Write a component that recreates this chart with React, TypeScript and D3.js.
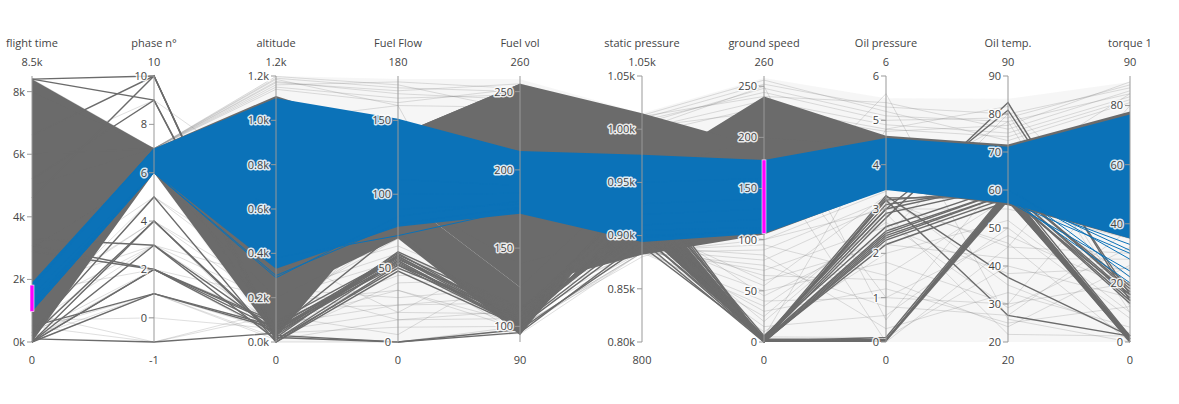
import * as d3 from "d3"

const WIDTH = 1179
const HEIGHT = 404
const AXIS_TOP = 76
const AXIS_BOTTOM = 342
const FONT = "'Open Sans', verdana, arial, sans-serif"

// dimensions
const dimLabels = ["flight time", "phase n°", "altitude", "Fuel Flow", "Fuel vol", "static pressure", "ground speed", "Oil pressure", "Oil temp.", "torque 1"]
const dimMin = [0, -1, 0, 0, 90, 800, 0, 0, 20, 0]
const dimMax = [8500, 10, 1200, 180, 260, 1050, 260, 6, 90, 90]
const dimTopText = ["8.5k", "10", "1.2k", "180", "260", "1.05k", "260", "6", "90", "90"]
const dimBottomText = ["0", "-1", "0", "0", "90", "800", "0", "0", "20", "0"]
const dimTicks = [
  [0, 2000, 4000, 6000, 8000],
  [0, 2, 4, 6, 8, 10],
  [0, 200, 400, 600, 800, 1000, 1200],
  [0, 50, 100, 150],
  [100, 150, 200, 250],
  [800, 850, 900, 950, 1000, 1050],
  [0, 50, 100, 150, 200, 250],
  [0, 1, 2, 3, 4, 5, 6],
  [20, 30, 40, 50, 60, 70, 80, 90],
  [0, 20, 40, 60, 80],
]
const dimTickText = [
  ["0k", "2k", "4k", "6k", "8k"],
  ["0", "2", "4", "6", "8", "10"],
  ["0.0k", "0.2k", "0.4k", "0.6k", "0.8k", "1.0k", "1.2k"],
  ["0", "50", "100", "150"],
  ["100", "150", "200", "250"],
  ["0.80k", "0.85k", "0.90k", "0.95k", "1.00k", "1.05k"],
  ["0", "50", "100", "150", "200", "250"],
  ["0", "1", "2", "3", "4", "5", "6"],
  ["20", "30", "40", "50", "60", "70", "80", "90"],
  ["0", "20", "40", "60", "80"],
]

// constraint ranges (brushes)
const brushDims = [0, 6]
const brushLo = [970, 106]
const brushHi = [1820, 178]

// faint context envelope
const washLo = [0, 6, 0, 0, 95, 940, 0, 0, 20, 0]
const washHi = [8400, 7, 1200, 178, 258, 1015, 258, 5.5, 84, 88]

// dense grey bundles [lo, hi]
const greyBands: [number[], number[]][] = [
  [[0, 6, 20, 100, 125, 882, 105, 3.45, 56, 35], [8400, 7, 1110, 140, 255, 960, 240, 4.65, 72, 78]],
  [[5000, 7, 700, 120, 200, 960, 150, 3.8, 62, 50], [8000, 7, 1000, 140, 255, 1015, 190, 4.4, 68, 70]],
  [[1000, 6, 300, 100, 140, 905, 0, 0, 57, 0], [3000, 6, 500, 120, 170, 940, 3, 0.06, 60, 2]],
  [[1000, 6, 200, 70, 95, 940, 150, 3.8, 62, 50], [3000, 6, 300, 100, 125, 960, 200, 4.4, 68, 70]],
]

// dense selected bundle
const blueLo = [970, 6, 330, 78, 172, 894, 106, 3.43, 56.5, 35]
const blueHi = [1900, 7, 1100, 151, 212, 976, 178, 4.6, 71.4, 77]

// single grey records
const greyLines = [
  [8400, 10, 10, 55, 101, 905, 2, 3.2, 60, 16],
  [8400, 9, 30, 58, 103, 910, 4, 3.1, 61, 18],
  [6600, 10, 0, 52, 100, 900, 1, 2.4, 59, 14],
  [5200, 9, 50, 60, 104, 915, 0, 2.3, 58, 0],
  [4600, 10, 20, 0, 98, 890, 3, 3.3, 37, 2],
  [0, 1, 70, 57, 102, 920, 2, 2.5, 60, 15],
  [0, 2, 40, 54, 100, 925, 5, 3.0, 62, 17],
  [0, 3, 10, 50, 106, 930, 1, 2.2, 57, 2],
  [0, 4, 30, 0, 96, 895, 0, 3.2, 27, 2],
  [100, -1, 40, 59, 110, 935, 3, 0.05, 58, 1],
  [3100, 2, 60, 56, 108, 940, 6, 2.6, 61, 19],
  [2900, 2, 80, 53, 104, 945, 2, 2.8, 83, 14],
  [3300, 3, 50, 55, 100, 950, 0, 2.35, 59, 13],
  [200, 4, 20, 61, 112, 900, 4, 3.0, 81, 16],
  [300, 5, 0, 48, 100, 920, 2, 2.45, 60, 1],
  [0, 2, 90, 58, 105, 910, 1, 0.1, 60, 0],
  [500, 1, 60, 52, 107, 905, 3, 2.9, 61, 2],
  [6000, 7, 60, 75, 95, 955, 0, 3.25, 58, 16],
]

// faint context records
const contextLines = [
  [300, 2, 40, 10, 100, 884, 90, 3.2, 45, 30],
  [600, 3, 80, 25, 115, 886, 70, 2.6, 38, 25],
  [150, 1, 20, 40, 130, 889, 50, 1.8, 30, 20],
  [900, -1, 120, 5, 140, 893, 30, 1.2, 25, 12],
  [1300, 4, 160, 70, 150, 896, 15, 0.6, 50, 8],
  [50, 2, 200, 55, 95, 884, 100, 3.0, 55, 35],
  [2000, 5, 240, 30, 125, 890, 85, 0.3, 33, 5],
  [700, 0, 60, 90, 160, 910, 60, 2.2, 42, 28],
  [400, 1, 10, 15, 105, 885, 40, 1.0, 48, 18],
  [1100, 3, 280, 65, 118, 888, 25, 2.9, 22, 2],
  [250, 4, 0, 0, 100, 884, 75, 0.8, 27, 38],
  [1600, 2, 100, 45, 135, 892, 10, 2.0, 52, 10],
  [800, 5, 300, 80, 145, 900, 55, 3.3, 35, 3],
  [0, 1, 50, 20, 108, 886, 95, 1.5, 58, 22],
  [1800, 3, 180, 35, 98, 884, 35, 2.7, 29, 32],
  [500, -1, 140, 75, 155, 905, 5, 0.1, 40, 15],
  [1400, 4, 220, 60, 112, 887, 80, 3.1, 46, 0],
  [100, 2, 30, 50, 138, 895, 65, 1.4, 24, 26],
  [3500, 6, 150, 25, 120, 920, 45, 2.4, 80, 12],
  [2500, 6, 250, 15, 110, 912, 20, 2.8, 83, 14],
  [4200, 7, 90, 35, 102, 930, 100, 3.4, 78, 10],
  [8300, 7, 1190, 172, 250, 1010, 252, 5.3, 80, 86],
  [8200, 7, 1175, 168, 245, 1005, 248, 5.1, 78, 84],
  [7800, 7, 1160, 176, 252, 1012, 240, 5.4, 76, 85],
  [7000, 7, 1150, 165, 248, 1000, 236, 4.9, 75, 83],
  [6500, 7, 1185, 160, 240, 995, 230, 4.8, 74, 82],
  [8400, 7, 1170, 170, 255, 1008, 244, 5.0, 79, 87],
  [7500, 7, 1198, 174, 238, 1013, 256, 5.2, 73, 81],
  [6000, 7, 1140, 162, 252, 1002, 225, 4.75, 77, 88],
  [5000, 7, 900, 140, 230, 1000, 250, 0.5, 65, 84],
  [3000, 6, 600, 100, 180, 930, 5, 4.8, 82, 40],
  [2000, 6, 400, 20, 150, 890, 200, 1.0, 30, 60],
  [4000, 7, 1000, 160, 100, 880, 120, 5.6, 26, 0],
  [6000, 9, 700, 150, 210, 985, 180, 0, 45, 80],
]

// single selected records
const blueLines = [
  [1500, 6, 290, 85, 180, 905, 112, 3.6, 58, 20],
  [1300, 6, 300, 80, 176, 900, 108, 3.5, 57, 24],
  [1700, 7, 600, 110, 190, 930, 140, 4.0, 60, 28],
  [1100, 6, 500, 100, 185, 920, 130, 3.8, 59, 31],
  [1800, 7, 800, 130, 200, 950, 160, 4.3, 61, 22],
  [1000, 6, 400, 90, 178, 910, 120, 3.7, 57.5, 33],
  [1200, 6, 380, 72, 175, 898, 110, 3.5, 57, 30],
]

const GREY = "#6b6b6b"
const BLUE = "#0b72b8"

export default function App() {
  const idx = d3.range(dimLabels.length)
  const x = d3.scalePoint<number>().domain(idx).range([32, 1130])
  const ys = dimMin.map((mn, i) => d3.scaleLinear().domain([mn, dimMax[i]]).range([AXIS_BOTTOM, AXIS_TOP]))

  const band = (lo: number[], hi: number[]) =>
    d3
      .area<number>()
      .x((i) => x(i) as number)
      .y0((i) => ys[i](lo[i]))
      .y1((i) => ys[i](hi[i]))(idx) || ""

  const line = d3
    .line<number>()
    .x((_, i) => x(i) as number)
    .y((v, i) => ys[i](v))

  return (
    <svg
      width={WIDTH}
      height={HEIGHT}
      style={{ position: "absolute", left: 0, top: 0, background: "#fff" }}
      fontFamily={FONT}
    >
      {/* context */}
      <path d={band(washLo, washHi)} fill="#8c8c8c" fillOpacity={0.08} />
      <g fill="none" stroke="#7a7a7a" strokeOpacity={0.3} strokeWidth={0.8}>
        {contextLines.map((d, i) => (
          <path key={i} d={line(d) || ""} />
        ))}
      </g>
      <g fill={GREY}>
        {greyBands.map(([lo, hi], i) => (
          <path key={i} d={band(lo, hi)} />
        ))}
      </g>
      <g fill="none" stroke={GREY} strokeWidth={1.4}>
        {greyLines.map((d, i) => (
          <path key={i} d={line(d) || ""} />
        ))}
      </g>

      {/* focus */}
      <path d={band(blueLo, blueHi)} fill={BLUE} />
      <g fill="none" stroke={BLUE} strokeWidth={1}>
        {blueLines.map((d, i) => (
          <path key={i} d={line(d) || ""} />
        ))}
      </g>

      {/* axes */}
      {idx.map((i) => {
        const ax = x(i) as number
        const y = ys[i]
        return (
          <g key={i} transform={`translate(${ax},0)`}>
            <line y1={AXIS_TOP} y2={AXIS_BOTTOM} stroke="#999" strokeWidth={1} />
            {dimTicks[i].map((t, j) => (
              <g key={j} transform={`translate(0,${y(t)})`}>
                <line x1={-5} x2={0} stroke="#999" />
                <text
                  x={-7}
                  dy="0.35em"
                  textAnchor="end"
                  fontSize={11}
                  fill="#444"
                  stroke="#fff"
                  strokeWidth={3}
                  strokeOpacity={0.85}
                  strokeLinejoin="round"
                  paintOrder="stroke"
                >
                  {dimTickText[i][j]}
                </text>
              </g>
            ))}
            <text y={47} textAnchor="middle" fontSize={11} fill="#444">
              {dimLabels[i]}
            </text>
            <text y={65.5} textAnchor="middle" fontSize={11} fill="#444">
              {dimTopText[i]}
            </text>
            <text y={364} textAnchor="middle" fontSize={11} fill="#444">
              {dimBottomText[i]}
            </text>
          </g>
        )
      })}

      {/* brushes */}
      {brushDims.map((d, k) => {
        const ax = x(d) as number
        const y0 = ys[d](brushHi[k])
        const y1 = ys[d](brushLo[k])
        return (
          <rect
            key={k}
            x={ax - 2}
            y={y0}
            width={4}
            height={y1 - y0}
            fill="#ff00ff"
            stroke="#fff"
            strokeWidth={0.6}
          />
        )
      })}
    </svg>
  )
}
